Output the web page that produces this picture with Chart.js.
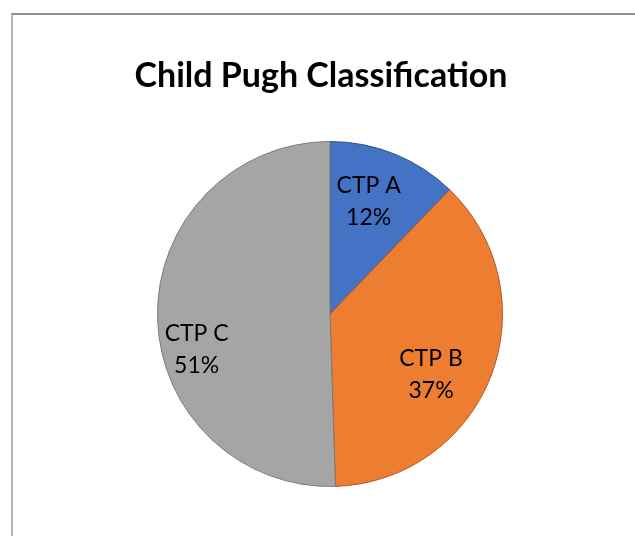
<!DOCTYPE html>
<html>
<head>
<meta charset="utf-8">
<script src="https://cdn.jsdelivr.net/npm/chart.js@4"></script>
<style>
  html, body { margin: 0; padding: 0; background: #fff; }
  #wrap { position: relative; width: 635px; height: 536px; overflow: hidden; }
  #frame {
    position: absolute; left: 11px; top: 13px; width: 700px; height: 600px;
    border-top: 2px solid #8f8f8f; border-left: 2px solid #b3b3b3;
  }
  #pieChart { position: absolute; left: 0; top: 0; }
</style>
</head>
<body>
<div id="wrap">
  <div id="frame"></div>
  <canvas id="pieChart" width="635" height="536"></canvas>
</div>
<script>
const chartTitle = "Child Pugh Classification";
const categories = ["CTP A", "CTP B", "CTP C"];
const shares = [12.2, 37.3, 50.5];
const shareLabels = ["12%", "37%", "51%"];

const fillColors = ["#4472C4", "#ED7D31", "#A5A5A5"];
const edgeColors = ["#2F528F", "#AE5A21", "#7B7B7B"];

// where each data label sits: fraction of radius and angle nudge (degrees)
const labelPlace = [
  { r: 0.69, da: -3 },
  { r: 0.68, da: 9.5 },
  { r: 0.80, da: -14 }
];

const titlePlugin = {
  id: "excelTitle",
  afterDraw(chart) {
    const ctx = chart.ctx;
    ctx.save();
    ctx.font = "bold 34px Lato";
    ctx.fillStyle = "#000";
    ctx.textAlign = "center";
    ctx.textBaseline = "alphabetic";
    ctx.fillText(chartTitle, 321, 87);
    ctx.restore();
  }
};

const sliceLabels = {
  id: "sliceLabels",
  afterDatasetsDraw(chart) {
    const ctx = chart.ctx;
    const arcs = chart.getDatasetMeta(0).data;
    ctx.save();
    ctx.font = "23px Lato";
    ctx.fillStyle = "#000";
    ctx.textAlign = "center";
    ctx.textBaseline = "alphabetic";
    arcs.forEach((arc, i) => {
      const p = labelPlace[i];
      const mid = (arc.startAngle + arc.endAngle) / 2 + p.da * Math.PI / 180;
      const dist = arc.outerRadius * p.r;
      const x = arc.x + Math.cos(mid) * dist;
      const y = arc.y + Math.sin(mid) * dist;
      ctx.fillText(categories[i], x, y - 8);
      ctx.fillText(shareLabels[i], x, y + 24);
    });
    ctx.restore();
  }
};

new Chart(document.getElementById("pieChart"), {
  type: "pie",
  data: {
    labels: categories,
    datasets: [{
      data: shares,
      backgroundColor: fillColors,
      borderColor: edgeColors,
      borderWidth: 1
    }]
  },
  options: {
    responsive: false,
    animation: false,
    layout: { padding: { left: 157, right: 132, top: 141, bottom: 49 } },
    plugins: {
      legend: { display: false },
      tooltip: { enabled: false },
      title: { display: false }
    }
  },
  plugins: [sliceLabels, titlePlugin]
});
</script>
</body>
</html>
